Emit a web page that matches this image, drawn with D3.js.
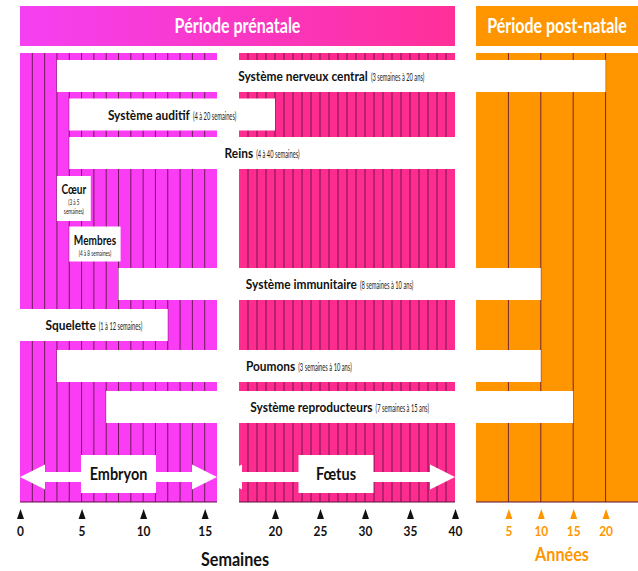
<!DOCTYPE html>
<html>
<head>
<meta charset="utf-8">
<script src="https://cdn.jsdelivr.net/npm/d3@7"></script>
<style>
body{margin:0;background:#fff;}
text{font-family:Lato,"Open Sans",sans-serif;}
</style>
</head>
<body>
<svg id="chart" width="638" height="571"></svg>
<script>
'use strict';

// data
var systems=['Système nerveux central','Système auditif','Reins','Cœur','Membres',
    'Système immunitaire','Squelette','Poumons','Système reproducteurs'];
var periods=['(3 semaines à 20 ans)','(4 à 20 semaines)','(4 à 40 semaines)','(3 à 5 semaines)',
    '(4 à 8 semaines)','(8 semaines à 10 ans)','(1 à 12 semaines)','(3 semaines à 10 ans)',
    '(7 semaines à 15 ans)'];
var startWeeks=[3,4,4,3,4,8,0,3,7];
var endValues=[20,20,40,5,8,10,12,10,15];
var endUnits=['an','sem','sem','sem','sem','an','sem','an','an'];
var weekTicks=[0,5,10,15,20,25,30,35,40];
var yearTicks=[5,10,15,20];
var phases=['Embryon','Fœtus'];
var phaseStart=[0,16];
var phaseEnd=[16,40];
var periodTitles=['Période prénatale','Période post-natale'];

var svg=d3.select('#chart');

// scales: embryo weeks, foetus weeks, years
var xEmb=d3.scaleLinear().domain([0,16]).range([20,217]);
var xFet=d3.scaleLinear().domain([16,40]).range([239,455]);
var xYr=d3.scaleLinear().domain([0,25]).range([476,638]);
var xWeek=function(w){ return w<=16 ? xEmb(w) : xFet(w); };
var xEnd=function(i){ return endUnits[i]=='an' ? xYr(endValues[i]) : xWeek(endValues[i]); };
var yRow=d3.scaleLinear().domain([0,2,3,4,5,8]).range([76,153,198.5,244,284,407]);

var yTop=53, yBottom=502;
var colEmb='#fa3df5', colFet='#ff2c90', colOrange='#ff9600', lineCol='#5a1240';

var defs=svg.append('defs');
var grad=defs.append('linearGradient').attr('id','hdr');
grad.append('stop').attr('offset','0%').attr('stop-color','#f540f2');
grad.append('stop').attr('offset','100%').attr('stop-color','#ff2f98');

// headers
var hdr=[[xEmb(0),xFet(40),'url(#hdr)'],[xYr(0),xYr(25),colOrange]];
hdr.forEach(function(h,i){
    svg.append('rect').attr('x',h[0]).attr('y',6).attr('width',h[1]-h[0]).attr('height',40).attr('fill',h[2]);
    svg.append('text')
        .attr('transform','translate('+((h[0]+h[1])/2)+',33) scale(0.8,1)')
        .attr('text-anchor','middle').attr('fill','#fff')
        .style('font-size','20px').style('font-weight','bold')
        .text(periodTitles[i]);
});

// background blocks
var blocks=[[xEmb(0),xEmb(16),colEmb],[xFet(16),xFet(40),colFet],[xYr(0),xYr(25),colOrange]];
blocks.forEach(function(b){
    svg.append('rect').attr('x',b[0]).attr('y',yTop).attr('width',b[1]-b[0]).attr('height',yBottom-yTop).attr('fill',b[2]);
    svg.append('line').attr('x1',b[0]).attr('x2',b[1]).attr('y1',yBottom).attr('y2',yBottom)
        .attr('stroke',lineCol).attr('stroke-width',1.2);
});

var stripes=d3.range(1,16).map(xEmb)
    .concat(d3.range(17,40).map(xFet))
    .concat(yearTicks.map(xYr));
svg.append('g').selectAll('line').data(stripes).enter().append('line')
    .attr('x1',function(d){return d;}).attr('x2',function(d){return d;})
    .attr('y1',yTop).attr('y2',yBottom)
    .attr('stroke',lineCol).attr('stroke-width',1).attr('stroke-opacity',0.85);

// bars
var bars=svg.append('g');
systems.forEach(function(name,i){
    var x0=xWeek(startWeeks[i]), x1=xEnd(i), cy=yRow(i);
    var g=bars.append('g');
    var rect=g.append('rect').attr('fill','#fff');
    var t1=g.append('text').style('font-size','14px').style('font-weight','bold').attr('fill','#111').text(name);
    var t2=g.append('text').style('font-size','11.5px').attr('fill','#222').text(periods[i]);
    var s1=0.85, s2=0.5;
    var w1=t1.node().getComputedTextLength()*s1, w2=t2.node().getComputedTextLength()*s2, gap=3;
    if(w1+gap+w2+8<x1-x0){
        rect.attr('x',x0).attr('y',cy-16).attr('width',x1-x0).attr('height',32);
        var lx=(x0+x1)/2-(w1+gap+w2)/2;
        t1.attr('transform','translate('+lx+','+(cy+5)+') scale('+s1+',1)');
        t2.attr('transform','translate('+(lx+w1+gap)+','+(cy+5)+') scale('+s2+',1)');
    }else{
        // stacked label in a small box
        var sc=0.72;
        w1=t1.node().getComputedTextLength()*sc;
        var bw=Math.max(x1-x0,w1+9), cx=x0+bw/2;
        t2.remove();
        var words=periods[i].split(' '), lines=[''];
        var small=function(s){
            return g.append('text').style('font-size','8.5px').attr('fill','#222').text(s);
        };
        var probe=small('');
        words.forEach(function(w){
            var cur=lines[lines.length-1], nxt=cur ? cur+' '+w : w;
            probe.text(nxt);
            if(probe.node().getComputedTextLength()*0.55>bw-4 && cur){ lines.push(w); }
            else{ lines[lines.length-1]=nxt; }
        });
        probe.remove();
        var bh=25+lines.length*10, by=cy-bh/2;
        rect.attr('x',x0).attr('y',by).attr('width',bw).attr('height',bh);
        t1.attr('text-anchor','middle').attr('transform','translate('+cx+','+(by+18)+') scale('+sc+',1)');
        lines.forEach(function(l,k){
            small(l).attr('text-anchor','middle')
                .attr('transform','translate('+cx+','+(by+29+k*9)+') scale(0.55,1)');
        });
    }
});

// phase arrows
var ay=477;
phases.forEach(function(p,i){
    var a=xWeek(phaseStart[i]), b=xWeek(phaseEnd[i]), hl=25, hh=12.5, sh=5;
    var pts=[[a,ay],[a+hl,ay-hh],[a+hl,ay-sh],[b-hl,ay-sh],[b-hl,ay-hh],[b,ay],
        [b-hl,ay+hh],[b-hl,ay+sh],[a+hl,ay+sh],[a+hl,ay+hh]];
    svg.append('path').attr('d','M'+pts.join('L')+'Z').attr('fill','#fff');
    var cx=(a+b)/2;
    svg.append('rect').attr('x',cx-37.5).attr('y',ay-22).attr('width',75).attr('height',38).attr('fill','#fff');
    svg.append('text').attr('transform','translate('+cx+','+(ay+3)+') scale(0.85,1)')
        .attr('text-anchor','middle').attr('fill','#111')
        .style('font-size','17px').style('font-weight','bold').text(p);
});

// axes with triangle ticks
var tri='M0,0L3.5,10L-3.5,10Z';
var drawAxis=function(scale,vals,col){
    var ax=svg.append('g').attr('transform','translate(0,509)')
        .call(d3.axisBottom(scale).tickValues(vals).tickSize(0).tickPadding(17).tickFormat(d3.format('d')));
    ax.select('.domain').remove();
    ax.selectAll('.tick').append('path').attr('d',tri).attr('fill',col);
    ax.selectAll('.tick text').attr('fill',col).style('font-size','14px').style('font-weight','bold')
        .style('font-family','Lato,sans-serif').attr('transform','scale(0.85,1)');
};
drawAxis(xEmb,weekTicks.filter(function(d){return d<16;}),'#111');
drawAxis(xFet,weekTicks.filter(function(d){return d>16;}),'#111');
drawAxis(xYr,yearTicks,colOrange);

svg.append('text').attr('transform','translate(235,566) scale(0.85,1)').attr('text-anchor','middle')
    .attr('fill','#111').style('font-size','19px').style('font-weight','bold').text('Semaines');
svg.append('text').attr('transform','translate(562,561) scale(0.85,1)').attr('text-anchor','middle')
    .attr('fill',colOrange).style('font-size','19px').style('font-weight','bold').text('Années');
</script>
</body>
</html>
